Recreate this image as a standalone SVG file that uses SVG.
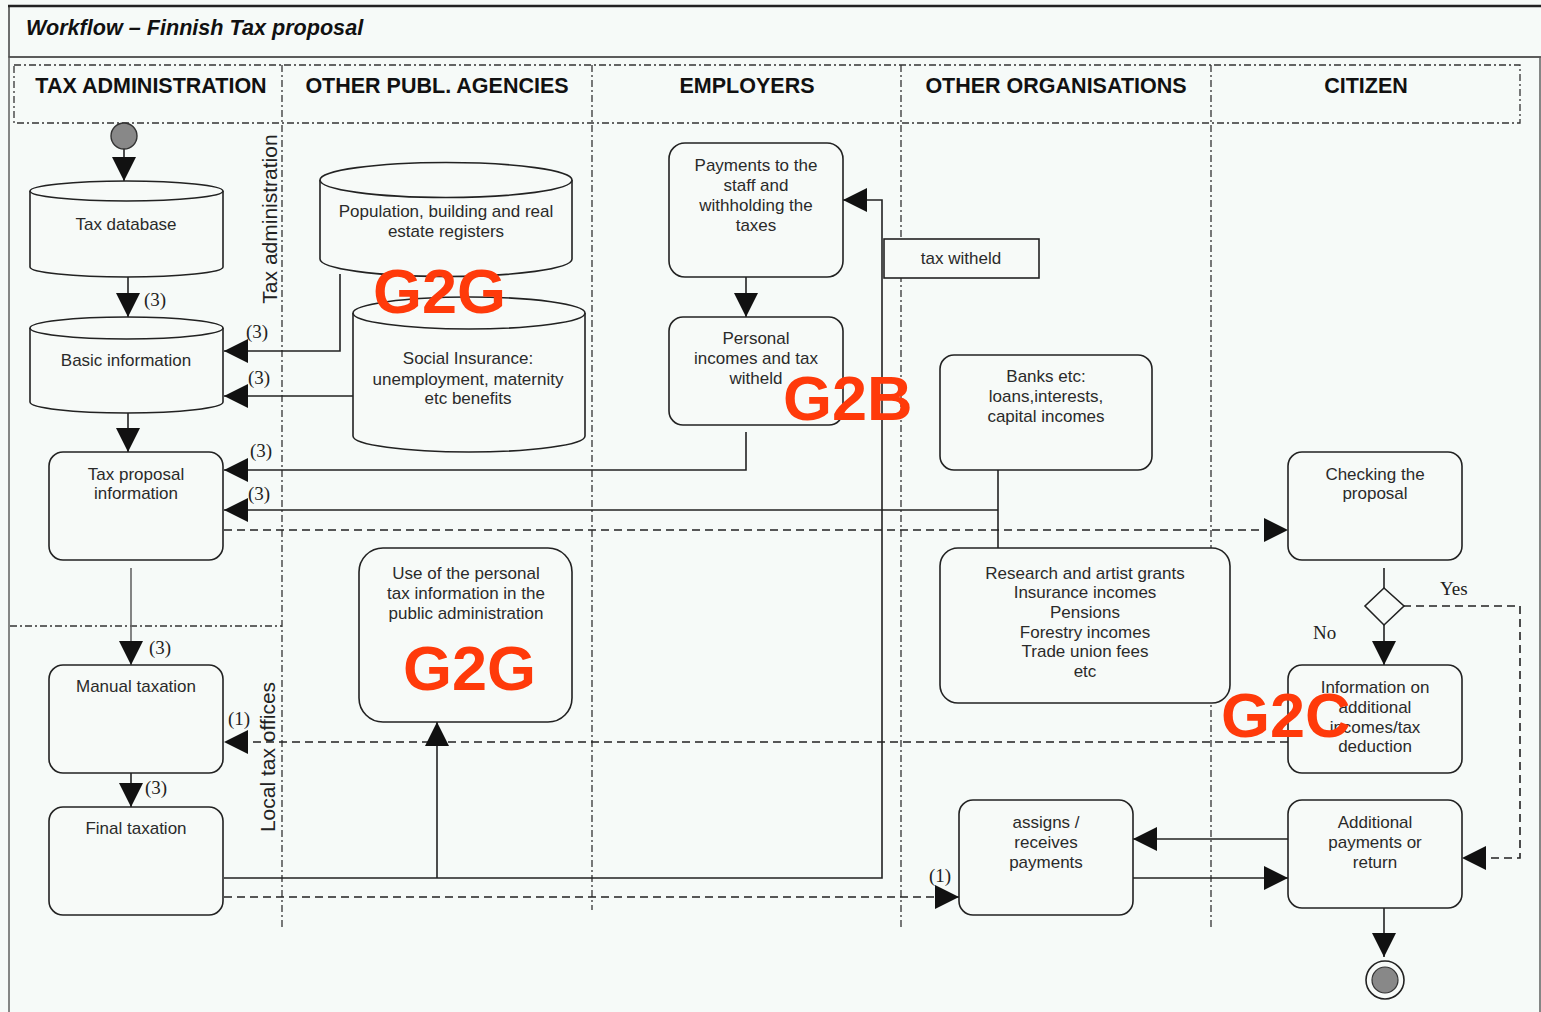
<svg xmlns="http://www.w3.org/2000/svg" width="1541" height="1012" viewBox="0 0 1541 1012">
  <defs>
    <marker id="arrow" markerUnits="userSpaceOnUse" markerWidth="26" markerHeight="26" refX="24" refY="12" orient="auto">
      <path d="M0,0 L24,12 L0,24 Z" fill="#111"/>
    </marker>
    <style>
      .lane { fill: none; stroke: #333; stroke-width: 1.3; stroke-dasharray: 7 3 2 3; }
      .conn { fill: none; stroke: #222; stroke-width: 1.6; }
      .grey { stroke: #666; }
      .dash { stroke-dasharray: 8 5; }
      .shape { fill: #f7faf8; stroke: #222; stroke-width: 1.6; }
      .txt { font-family: "Liberation Sans", Arial, sans-serif; font-size: 17px; fill: #2a2a2a; text-anchor: middle; }
      .head { font-family: "Liberation Sans", Arial, sans-serif; font-size: 21.5px; font-weight: bold; fill: #111; text-anchor: middle; }
      .side { font-family: "Liberation Sans", Arial, sans-serif; font-size: 21px; fill: #222; text-anchor: middle; }
      .num { font-family: "Liberation Serif", "Times New Roman", serif; font-size: 19px; fill: #222; }
      .tag { font-family: "Liberation Sans", Arial, sans-serif; font-size: 63px; font-weight: bold; fill: #ff3a0a; }
    </style>
  </defs>

  <!-- page -->
  <rect x="0" y="0" width="1541" height="1012" fill="#f6faf8"/>
  <rect x="9" y="6" width="1540" height="51" fill="#f6faf8" stroke="#333" stroke-width="1.4"/>
  <line x1="8" y1="6" x2="1541" y2="6" stroke="#222" stroke-width="2.5"/>
  <rect x="9" y="57" width="1531" height="970" fill="none" stroke="#555" stroke-width="1.4"/>
  <text x="26" y="35" font-family="Liberation Sans, Arial, sans-serif" font-size="21.6" font-weight="bold" font-style="italic" fill="#111">Workflow – Finnish Tax proposal</text>

  <!-- swimlanes -->
  <g id="lanes">
    <rect class="lane" x="14" y="65" width="1506" height="58"/>
    <line class="lane" x1="282" y1="65" x2="282" y2="928"/>
    <line class="lane" x1="592" y1="65" x2="592" y2="910"/>
    <line class="lane" x1="901" y1="65" x2="901" y2="928"/>
    <line class="lane" x1="1211" y1="65" x2="1211" y2="928"/>
    <line class="lane" x1="10" y1="626" x2="282" y2="626"/>
    <text class="head" x="151" y="93">TAX ADMINISTRATION</text>
    <text class="head" x="437" y="93">OTHER PUBL. AGENCIES</text>
    <text class="head" x="747" y="93">EMPLOYERS</text>
    <text class="head" x="1056" y="93">OTHER ORGANISATIONS</text>
    <text class="head" x="1366" y="93">CITIZEN</text>
    <text class="side" transform="translate(277,219) rotate(-90)">Tax administration</text>
    <text class="side" transform="translate(275,757) rotate(-90)">Local tax offices</text>
  </g>

  <!-- connectors -->
  <g id="connectors">
    <line class="conn" x1="124" y1="149" x2="124" y2="181" marker-end="url(#arrow)"/>
    <line class="conn" x1="128" y1="277" x2="128" y2="317" marker-end="url(#arrow)"/>
    <text class="num" x="144" y="306">(3)</text>
    <path class="conn" d="M340,274 V351 H224" marker-end="url(#arrow)"/>
    <text class="num" x="246" y="338">(3)</text>
    <path class="conn" d="M360,396 H224" marker-end="url(#arrow)"/>
    <text class="num" x="248" y="384">(3)</text>
    <line class="conn" x1="128" y1="413" x2="128" y2="452" marker-end="url(#arrow)"/>
    <line class="conn" x1="746" y1="277" x2="746" y2="317" marker-end="url(#arrow)"/>
    <path class="conn" d="M746,432 V470 H224" marker-end="url(#arrow)"/>
    <text class="num" x="250" y="457">(3)</text>
    <path class="conn" d="M998,470 V548"/>
    <path class="conn" d="M998,510 H224" marker-end="url(#arrow)"/>
    <text class="num" x="248" y="500">(3)</text>
    <path class="conn dash" d="M224,530 H1288" marker-end="url(#arrow)"/>
    <path class="conn grey" d="M131,568 V665" marker-end="url(#arrow)"/>
    <text class="num" x="149" y="654">(3)</text>
    <path class="conn" d="M131,765 V807" marker-end="url(#arrow)"/>
    <text class="num" x="145" y="794">(3)</text>
    <path class="conn dash" d="M1288,742 H224" marker-end="url(#arrow)"/>
    <text class="num" x="228" y="725">(1)</text>
    <path class="conn" d="M224,878 H882 V200 H843" marker-end="url(#arrow)"/>
    <path class="conn" d="M437,878 V722" marker-end="url(#arrow)"/>
    <path class="conn dash" d="M224,897 H959" marker-end="url(#arrow)"/>
    <text class="num" x="929" y="882">(1)</text>
    <path class="conn" d="M1384,568 V588"/>
    <path class="conn" d="M1384,625 V665" marker-end="url(#arrow)"/>
    <text class="num" x="1440" y="595">Yes</text>
    <text class="num" x="1313" y="639">No</text>
    <path class="conn dash" d="M1403,606 H1520 V858 H1462" marker-end="url(#arrow)"/>
    <path class="conn" d="M1288,839 H1133" marker-end="url(#arrow)"/>
    <path class="conn" d="M1133,878 H1288" marker-end="url(#arrow)"/>
    <path class="conn" d="M1384,908 V957" marker-end="url(#arrow)"/>
  </g>

  <!-- tax administration -->
  <g id="start">
    <circle cx="124" cy="136" r="13" fill="#888" stroke="#333" stroke-width="1.4"/>
  </g>
  <g id="tax-database">
    <path class="shape" d="M30,191 V267 A96.5,10 0 0 0 223,267 V191"/>
    <ellipse class="shape" cx="126.5" cy="191" rx="96.5" ry="10"/>
    <text class="txt" x="126" y="230">Tax database</text>
  </g>
  <g id="basic-information">
    <path class="shape" d="M30,328 V402 A96.5,11 0 0 0 223,402 V328"/>
    <ellipse class="shape" cx="126.5" cy="328" rx="96.5" ry="11"/>
    <text class="txt" x="126" y="366">Basic information</text>
  </g>
  <g id="tax-proposal-information">
    <rect class="shape" x="49" y="452" width="174" height="108" rx="14"/>
    <text class="txt" x="136" y="480">Tax proposal</text>
    <text class="txt" x="136" y="499">information</text>
  </g>
  <g id="manual-taxation">
    <rect class="shape" x="49" y="665" width="174" height="108" rx="14"/>
    <text class="txt" x="136" y="692">Manual taxation</text>
  </g>
  <g id="final-taxation">
    <rect class="shape" x="49" y="807" width="174" height="108" rx="14"/>
    <text class="txt" x="136" y="834">Final taxation</text>
  </g>

  <!-- other public agencies -->
  <g id="population-registers">
    <path class="shape" d="M320,180 V259 A126,17.5 0 0 0 572,259 V180"/>
    <ellipse class="shape" cx="446" cy="180" rx="126" ry="17.5"/>
    <text class="txt" x="446" y="217">Population, building and real</text>
    <text class="txt" x="446" y="237">estate registers</text>
  </g>
  <g id="social-insurance">
    <path class="shape" d="M353,313 V436 A116,16 0 0 0 585,436 V313"/>
    <ellipse class="shape" cx="469" cy="313" rx="116" ry="16"/>
    <text class="txt" x="468" y="364">Social Insurance:</text>
    <text class="txt" x="468" y="385">unemployment, maternity</text>
    <text class="txt" x="468" y="404">etc benefits</text>
  </g>
  <g id="use-of-tax-information">
    <rect class="shape" x="359" y="548" width="213" height="174" rx="24"/>
    <text class="txt" x="466" y="579">Use of the personal</text>
    <text class="txt" x="466" y="599">tax information in the</text>
    <text class="txt" x="466" y="619">public administration</text>
  </g>

  <!-- employers -->
  <g id="payments-to-staff">
    <rect class="shape" x="669" y="143" width="174" height="134" rx="16"/>
    <text class="txt" x="756" y="171">Payments to the</text>
    <text class="txt" x="756" y="191">staff and</text>
    <text class="txt" x="756" y="211">withholding the</text>
    <text class="txt" x="756" y="231">taxes</text>
  </g>
  <g id="personal-incomes">
    <rect class="shape" x="669" y="317" width="174" height="108" rx="14"/>
    <text class="txt" x="756" y="344">Personal</text>
    <text class="txt" x="756" y="364">incomes and tax</text>
    <text class="txt" x="756" y="384">witheld</text>
  </g>
  <g id="tax-witheld">
    <rect class="shape" x="884" y="239" width="155" height="39"/>
    <text class="txt" x="961" y="264">tax witheld</text>
  </g>

  <!-- other organisations -->
  <g id="banks">
    <rect class="shape" x="940" y="355" width="212" height="115" rx="14"/>
    <text class="txt" x="1046" y="382">Banks etc:</text>
    <text class="txt" x="1046" y="402">loans,interests,</text>
    <text class="txt" x="1046" y="422">capital incomes</text>
  </g>
  <g id="research-grants">
    <rect class="shape" x="940" y="548" width="290" height="155" rx="18"/>
    <text class="txt" x="1085" y="579">Research and artist grants</text>
    <text class="txt" x="1085" y="598">Insurance incomes</text>
    <text class="txt" x="1085" y="618">Pensions</text>
    <text class="txt" x="1085" y="638">Forestry incomes</text>
    <text class="txt" x="1085" y="657">Trade union fees</text>
    <text class="txt" x="1085" y="677">etc</text>
  </g>
  <g id="assigns-payments">
    <rect class="shape" x="959" y="800" width="174" height="115" rx="14"/>
    <text class="txt" x="1046" y="828">assigns /</text>
    <text class="txt" x="1046" y="848">receives</text>
    <text class="txt" x="1046" y="868">payments</text>
  </g>

  <!-- citizen -->
  <g id="checking-proposal">
    <rect class="shape" x="1288" y="452" width="174" height="108" rx="14"/>
    <text class="txt" x="1375" y="480">Checking the</text>
    <text class="txt" x="1375" y="499">proposal</text>
  </g>
  <g id="decision">
    <path class="shape" d="M1384,588 L1404,606 L1384,625 L1365,606 Z"/>
  </g>
  <g id="additional-information">
    <rect class="shape" x="1288" y="665" width="174" height="108" rx="14"/>
    <text class="txt" x="1375" y="693">Information on</text>
    <text class="txt" x="1375" y="713">additional</text>
    <text class="txt" x="1375" y="733">incomes/tax</text>
    <text class="txt" x="1375" y="752">deduction</text>
  </g>
  <g id="additional-payments">
    <rect class="shape" x="1288" y="800" width="174" height="108" rx="14"/>
    <text class="txt" x="1375" y="828">Additional</text>
    <text class="txt" x="1375" y="848">payments or</text>
    <text class="txt" x="1375" y="868">return</text>
  </g>
  <g id="end">
    <circle cx="1385" cy="980" r="19" fill="#f7faf8" stroke="#222" stroke-width="1.6"/>
    <circle cx="1385" cy="980" r="13" fill="#888" stroke="#333" stroke-width="1.2"/>
  </g>

  <!-- interaction type tags -->
  <g id="tags">
    <text class="tag" x="373" y="313">G2G</text>
    <text class="tag" x="783" y="420">G2B</text>
    <text class="tag" x="403" y="690">G2G</text>
    <text class="tag" x="1221" y="737">G2C</text>
  </g>
</svg>
